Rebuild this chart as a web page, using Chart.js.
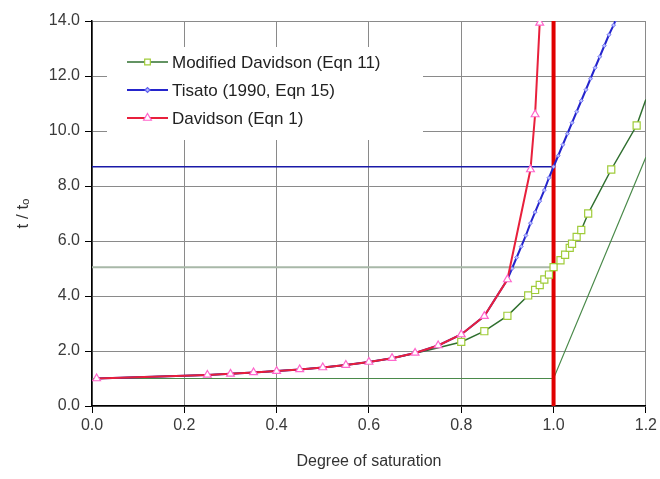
<!DOCTYPE html>
<html>
<head>
<meta charset="utf-8">
<script src="https://cdn.jsdelivr.net/npm/chart.js@4/dist/chart.umd.min.js"></script>
<style>
  html, body { margin: 0; padding: 0; background: #fff; }
  #wrap { width: 660px; height: 479px; }
</style>
</head>
<body>
<div id="wrap"><canvas id="chart" width="660" height="479"></canvas></div>
<script>
// x = degree of saturation, y = t / to
const davidsonX = [0.01, 0.25, 0.30, 0.35, 0.40, 0.45, 0.50, 0.55, 0.60, 0.65, 0.70, 0.75, 0.80, 0.85, 0.90, 0.95, 0.96, 0.97];
const davidsonY = [1.00, 1.13, 1.17, 1.22, 1.27, 1.33, 1.40, 1.49, 1.60, 1.74, 1.93, 2.20, 2.60, 3.27, 4.60, 8.60, 10.60, 13.93];

const modifiedX = [0.01, 0.25, 0.30, 0.35, 0.40, 0.45, 0.50, 0.55, 0.60, 0.65, 0.70, 0.75, 0.80, 0.85, 0.90, 0.945, 0.96, 0.97, 0.98, 0.99, 1.00, 1.015, 1.025, 1.035, 1.04, 1.05, 1.06, 1.075, 1.125, 1.18, 1.20];
const modifiedY = [1.00, 1.13, 1.17, 1.22, 1.27, 1.33, 1.40, 1.49, 1.60, 1.74, 1.92, 2.12, 2.33, 2.72, 3.28, 4.02, 4.22, 4.40, 4.60, 4.78, 5.05, 5.30, 5.50, 5.75, 5.90, 6.15, 6.40, 7.00, 8.60, 10.20, 11.15];

const tisatoX = [0.01, 0.25, 0.30, 0.35, 0.40, 0.45, 0.50, 0.55, 0.60, 0.65, 0.70, 0.75, 0.80, 0.85, 0.90, 0.91, 0.92, 0.93, 0.94, 0.95, 0.96, 0.97, 0.98, 0.99, 1.00, 1.01, 1.02, 1.03, 1.04, 1.05, 1.06, 1.07, 1.08, 1.09, 1.10, 1.11, 1.12, 1.13, 1.135];
const tisatoY = [1.00, 1.13, 1.17, 1.22, 1.27, 1.33, 1.40, 1.49, 1.60, 1.74, 1.93, 2.20, 2.60, 3.27, 4.60, 5.00, 5.40, 5.80, 6.20, 6.65, 7.05, 7.45, 7.85, 8.30, 8.70, 9.10, 9.50, 9.90, 10.30, 10.70, 11.10, 11.50, 11.90, 12.30, 12.70, 13.10, 13.50, 13.85, 14.05];

// reference lines
const capacityX = [1.0, 1.0];
const capacityY = [0, 14];
const tisatoAtCapacityX = [0, 1.0];
const tisatoAtCapacityY = [8.7, 8.7];
const modifiedAtCapacityX = [0, 1.0];
const modifiedAtCapacityY = [5.05, 5.05];
const overflowX = [0, 1.0, 1.2];
const overflowY = [1.0, 1.0, 9.05];

const xTicks = [0, 0.2, 0.4, 0.6, 0.8, 1.0, 1.2];
const yTicks = [0, 2, 4, 6, 8, 10, 12, 14];

function pts(xs, ys) {
    return xs.map((x, i) => ({ x, y: ys[i] }));
}

const FONT = "'Liberation Sans', Arial, sans-serif";

// draws a boxed legend inside the plot, Excel style (line + marker)
const boxLegend = {
    id: 'boxLegend',
    beforeDatasetsDraw(chart) {
        const a = chart.chartArea;
        const ctx = chart.ctx;
        ctx.save();
        ctx.fillStyle = '#fff';
        ctx.fillRect(a.left + 15, a.top + 26, 316, 93);
        ctx.restore();
    },
    afterDatasetsDraw(chart) {
        const a = chart.chartArea;
        const ctx = chart.ctx;
        const items = chart.data.datasets.filter(d => d.inLegend);
        items.sort((p, q) => p.inLegend - q.inLegend);
        ctx.save();
        ctx.font = "17px " + FONT;
        ctx.textBaseline = 'middle';
        items.forEach((d, i) => {
            const y = a.top + 41 + i * 28;
            const x0 = a.left + 35;
            ctx.strokeStyle = d.borderColor;
            ctx.lineWidth = d.borderWidth;
            ctx.beginPath();
            ctx.moveTo(x0, y);
            ctx.lineTo(x0 + 41, y);
            ctx.stroke();
            ctx.fillStyle = d.pointBackgroundColor;
            ctx.strokeStyle = d.pointBorderColor;
            ctx.lineWidth = 1.2;
            Chart.helpers.drawPoint(ctx, {
                pointStyle: d.pointStyle,
                radius: d.legendRadius,
                rotation: 0,
                borderWidth: 1.2
            }, x0 + 20.5, y);
            ctx.fillStyle = '#222';
            ctx.fillText(d.label, x0 + 45, y + 1);
        });
        ctx.restore();
    }
};

const ctx = document.getElementById('chart').getContext('2d');
new Chart(ctx, {
    type: 'scatter',
    data: {
        datasets: [
            {
                label: 'Davidson (Eqn 1)',
                inLegend: 3,
                data: pts(davidsonX, davidsonY),
                showLine: true,
                borderColor: '#e8203c',
                borderWidth: 2,
                pointStyle: 'triangle',
                pointRadius: 4.5,
                legendRadius: 4.5,
                pointBackgroundColor: '#fff',
                pointBorderColor: '#ff66cc',
                pointBorderWidth: 1.2
            },
            {
                label: 'Tisato (1990, Eqn 15)',
                inLegend: 2,
                data: pts(tisatoX, tisatoY),
                showLine: true,
                borderColor: '#2525cc',
                borderWidth: 2,
                pointStyle: 'rectRot',
                pointRadius: tisatoX.map(x => x >= 0.9 ? 2 : 0),
                legendRadius: 2.5,
                pointBackgroundColor: '#b8c0ff',
                pointBorderColor: '#6060ee',
                pointBorderWidth: 0.8
            },
            {
                label: 'Modified Davidson (Eqn 11)',
                inLegend: 1,
                data: pts(modifiedX, modifiedY),
                showLine: true,
                borderColor: '#2f6f2f',
                borderWidth: 1.5,
                pointStyle: 'rect',
                pointRadius: modifiedX.map(x => (x >= 0.8 && x < 1.2) ? 5 : 0),
                legendRadius: 4,
                pointBackgroundColor: '#fff',
                pointBorderColor: '#a0cc3a',
                pointBorderWidth: 1.2
            },
            {
                label: 'capacity',
                data: pts(capacityX, capacityY),
                showLine: true,
                borderColor: '#e00000',
                borderWidth: 4,
                pointRadius: 0
            },
            {
                label: 'Tisato at capacity',
                data: pts(tisatoAtCapacityX, tisatoAtCapacityY),
                showLine: true,
                borderColor: '#1a1aa8',
                borderWidth: 1.5,
                pointRadius: 0
            },
            {
                label: 'Modified at capacity',
                data: pts(modifiedAtCapacityX, modifiedAtCapacityY),
                showLine: true,
                borderColor: '#a8b8a8',
                borderWidth: 2,
                pointRadius: 0
            },
            {
                label: 'overflow',
                data: pts(overflowX, overflowY),
                showLine: true,
                borderColor: '#4a8a4a',
                borderWidth: 1.2,
                pointRadius: 0
            }
        ]
    },
    options: {
        responsive: false,
        animation: false,
        devicePixelRatio: 1,
        layout: { padding: { top: 21, right: 10, left: 0, bottom: 0 } },
        plugins: {
            legend: { display: false },
            tooltip: { enabled: false }
        },
        scales: {
            x: {
                type: 'linear',
                min: 0,
                max: 1.2,
                afterFit: s => { s.height = 73; },
                afterBuildTicks: s => { s.ticks = xTicks.map(v => ({ value: v })); },
                ticks: {
                    callback: v => v.toFixed(1),
                    font: { family: FONT, size: 16 },
                    color: '#3a3a3a',
                    padding: 3,
                    maxRotation: 0
                },
                grid: {
                    color: '#8a8a8a',
                    lineWidth: 1,
                    tickColor: '#000',
                    tickLength: 7
                },
                border: { color: '#000', width: 1.5 },
                title: {
                    display: true,
                    text: 'Degree of saturation',
                    font: { family: FONT, size: 16 },
                    color: '#333',
                    padding: { top: 4, bottom: 8 }
                }
            },
            y: {
                type: 'linear',
                min: 0,
                max: 14,
                afterFit: s => { s.width = 92; },
                afterBuildTicks: s => { s.ticks = yTicks.map(v => ({ value: v })); },
                ticks: {
                    callback: v => v.toFixed(1),
                    font: { family: FONT, size: 16 },
                    color: '#3a3a3a',
                    padding: 5
                },
                grid: {
                    color: '#8a8a8a',
                    lineWidth: 1,
                    tickColor: '#000',
                    tickLength: 7
                },
                border: { color: '#000', width: 1.5 },
                title: {
                    display: true,
                    text: 't / t\u2092',
                    font: { family: FONT, size: 17 },
                    color: '#333',
                    padding: { top: 13, bottom: 0 }
                }
            }
        }
    },
    plugins: [boxLegend]
});
</script>
</body>
</html>
